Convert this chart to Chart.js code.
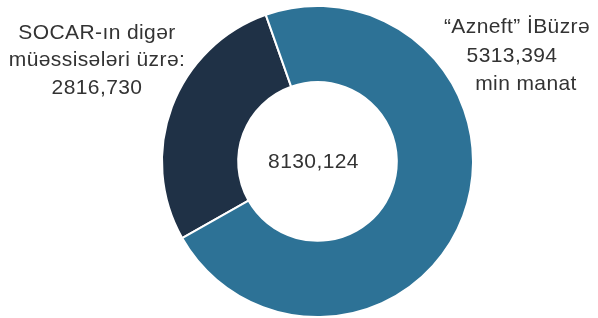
<!DOCTYPE html>
<html lang="az">
<head>
<meta charset="UTF-8">
<title>SOCAR donut</title>
<script src="https://cdn.jsdelivr.net/npm/chart.js@4.4.0/dist/chart.umd.min.js"></script>
<style>
  html, body { margin: 0; padding: 0; background: #fff; }
  #wrap { position: relative; width: 598px; height: 318px; }
</style>
</head>
<body>
<div id="wrap"><canvas id="donut" width="598" height="318"></canvas></div>
<script>
// slice shares as drawn in the picture (% of the ring)
const sliceNames = ['SOCAR-ın digər müəssisələri üzrə', '"Azneft" İB üzrə'];
const sliceShares = [27.8, 72.2];
const sliceColors = ['#1f3146', '#2d7296'];

// label texts
const leftLabel = ['SOCAR-ın digər', 'müəssisələri üzrə:', '2816,730'];
const rightLabel = ['\u201CAzneft\u201D İBüzrə', '5313,394', 'min manat'];
const centerLabel = '8130,124';

const FONT = '21px "Liberation Sans", Arial, sans-serif';
const TEXT_COLOR = '#333333';

const labelsPlugin = {
    id: 'labels',
    afterDraw(chart) {
        const ctx = chart.ctx;
        const arc = chart.getDatasetMeta(0).data[0];
        ctx.save();
        ctx.font = FONT;
        ctx.fillStyle = TEXT_COLOR;
        ctx.textAlign = 'center';
        ctx.textBaseline = 'alphabetic';
        ctx.letterSpacing = '0.4px';

        // centre total
        ctx.fillText(centerLabel, arc.x - 4, arc.y + 6);

        // left block
        const leftX = [97, 97, 97];
        const leftY = [39, 66, 94];
        leftLabel.forEach((t, i) => ctx.fillText(t, leftX[i], leftY[i]));

        // right block
        const rightX = [517, 512, 526];
        const rightY = [33, 62, 90];
        rightLabel.forEach((t, i) => ctx.fillText(t, rightX[i], rightY[i]));
        ctx.restore();
    }
};

new Chart(document.getElementById('donut'), {
    type: 'doughnut',
    data: {
        labels: sliceNames,
        datasets: [{
            data: sliceShares,
            backgroundColor: sliceColors,
            borderColor: '#ffffff',
            borderWidth: 2,
            hoverOffset: 0
        }]
    },
    options: {
        responsive: false,
        animation: false,
        rotation: 240.5,
        cutout: '51%',
        layout: { padding: { left: 37, right: 0, top: 5, bottom: 0 } },
        plugins: {
            legend: { display: false },
            tooltip: { enabled: false }
        }
    },
    plugins: [labelsPlugin]
});
</script>
</body>
</html>
